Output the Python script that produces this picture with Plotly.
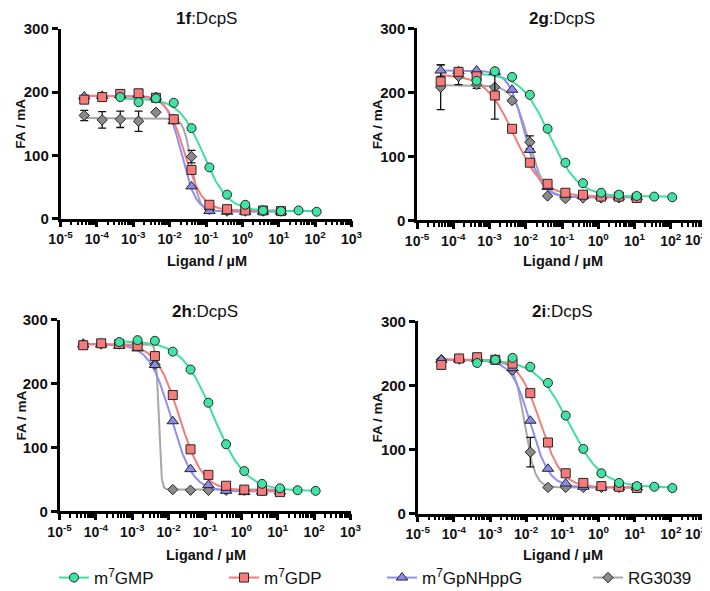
import numpy as np
import plotly.graph_objects as go

# ---------------- data ----------------
conc = [4.5e-5, 1.4e-4, 4.4e-4, 1.4e-3, 4.2e-3, 0.013, 0.040, 0.124, 0.38, 1.2, 3.7, 11.5, 35, 110]

series_names = ["m<sup>7</sup>GMP", "m<sup>7</sup>GDP", "m<sup>7</sup>GpNHppG", "RG3039"]
panel_titles = ["<b>1f</b>:DcpS", "<b>2g</b>:DcpS", "<b>2h</b>:DcpS", "<b>2i</b>:DcpS"]
x_tickvals = [1e-5, 1e-4, 1e-3, 1e-2, 1e-1, 1e0, 1e1, 1e2, 1e3]
x_ticktext = ["10<sup>-5</sup>", "10<sup>-4</sup>", "10<sup>-3</sup>", "10<sup>-2</sup>", "10<sup>-1</sup>",
              "10<sup>0</sup>", "10<sup>1</sup>", "10<sup>2</sup>", "10<sup>3</sup>"]
y_tickvals = [0, 100, 200, 300]

# panel 1f
f1_gmp = [None, None, 192, 184, 190, 183, 143, 81, 38, 22, 13, 12, 13, 11]
f1_gdp = [188, 192, 197, 198, 191, 157, 77, 22, 15, 13, 13, 12]
f1_gpnh = [193, 194, 195, 196, 192, 154, 51, 12, 11, 11, 11, 11]
f1_rg = [163, 156, 157, 154, 168, 157, 98, 15, 12, 12, 12, 12]
f1_rg_err = [8, 13, 13, 16, 0, 0, 10, 0, 0, 0, 0, 0]
# panel 2g
g2_gmp = [None, None, 218, 233, 224, 196, 143, 90, 58, 43, 40, 38, 37, 36]
g2_gdp = [217, 232, 225, 195, 143, 90, 57, 43, 40, 37, 37, 35]
g2_gdp_err = [0, 0, 0, 37, 0, 0, 0, 0, 0, 0, 0, 0]
g2_gpnh = [234, 233, 234, 232, 204, 110, 52, 40, 38, 37, 36, 36]
g2_gpnh_err = [9, 0, 0, 0, 0, 0, 0, 0, 0, 0, 0, 0]
g2_rg = [208, 225, 212, 208, 187, 122, 38, 34, 35, 35, 35, 35]
g2_rg_err = [35, 13, 6, 0, 0, 10, 0, 0, 0, 0, 0, 0]
# panel 2h
h2_gmp = [None, None, 265, 268, 267, 250, 222, 170, 105, 63, 43, 36, 33, 32]
h2_gdp = [260, 263, 262, 259, 243, 182, 97, 57, 40, 34, 32, 30]
h2_gpnh = [261, 261, 259, 255, 229, 141, 66, 41, 32, 30, 31, 31]
h2_rg = [262, 262, 262, 262, 230, 34, 33, 33, 33, 33, 33, 33]
# panel 2i
i2_gmp = [None, None, 235, 240, 243, 229, 204, 153, 101, 63, 48, 43, 42, 40]
i2_gdp = [232, 242, 244, 240, 234, 188, 111, 63, 48, 43, 42, 40]
i2_gpnh = [240, 241, 241, 240, 227, 145, 70, 47, 42, 41, 41, 41]
i2_rg = [240, 241, 241, 240, 224, 96, 41, 41, 41, 41, 41, 41]
i2_rg_err = [0, 0, 0, 0, 0, 23, 0, 0, 0, 0, 0, 0]

# fitted 4-parameter curves: top, bottom, IC50 (uM), Hill slope
f1_fits = [[190, 12, 0.085, 1.3], [194, 13, 0.026, 1.8], [194, 11, 0.021, 2.2], [159, 12, 0.040, 4.0]]
g2_fits = [[230, 37, 0.045, 1.1], [228, 37, 0.0048, 1.1], [234, 36, 0.0095, 1.96], [211, 36, 0.012, 2.0]]
h2_fits = [[267, 32, 0.17, 1.0], [262, 32, 0.020, 1.35], [262, 31, 0.0116, 1.46], [262, 34, 0.0053, 12.0]]
i2_fits = [[240, 41, 0.153, 0.97], [241, 41, 0.0248, 1.47], [240, 41, 0.0131, 1.67], [240, 41, 0.009, 3.0]]

panels = [
    dict(vals=[f1_gmp, f1_gdp, f1_gpnh, f1_rg], errs=[None, None, None, f1_rg_err], fits=f1_fits),
    dict(vals=[g2_gmp, g2_gdp, g2_gpnh, g2_rg], errs=[None, g2_gdp_err, g2_gpnh_err, g2_rg_err], fits=g2_fits),
    dict(vals=[h2_gmp, h2_gdp, h2_gpnh, h2_rg], errs=[None, None, None, None], fits=h2_fits),
    dict(vals=[i2_gmp, i2_gdp, i2_gpnh, i2_rg], errs=[None, None, None, i2_rg_err], fits=i2_fits),
]

# ---------------- style ----------------
W, H = 710, 591
FONT = "Liberation Sans, Arial, sans-serif"
line_colors = ["#3ee0a0", "#f47c7c", "#8f8ff2", "#a6a6a6"]
fill_colors = ["#3fe3a3", "#f77b7b", "#8a8aee", "#8a8a8a"]
symbols = ["circle", "square", "triangle-up", "diamond"]
sizes = [9, 9, 10, 8]
# pixel boxes: (x_left, x_right, y_top, y_bottom)
boxes = [(52.5, 343.5, 20.7, 210.7), (409.0, 699.0, 20.3, 212.3),
         (51.5, 342.5, 311.7, 503.3), (409.7, 699.0, 313.3, 505.7)]
legend_x = [46, 216, 374, 580]
legend_top = 552

fig = go.Figure()


def fourpl(x, p):
    top, bottom, ic50, hill = p
    return bottom + (top - bottom) / (1.0 + (x / ic50) ** hill)


for pi, pan in enumerate(panels):
    xa = "x" if pi == 0 else f"x{pi + 1}"
    ya = "y" if pi == 0 else f"y{pi + 1}"
    # curves (drawn bottom to top: RG3039, GpNHppG, GDP, GMP)
    for si in [3, 2, 1, 0]:
        v = pan["vals"][si]
        idx = [i for i, y in enumerate(v) if y is not None]
        xs = np.logspace(np.log10(conc[idx[0]]), np.log10(conc[idx[-1]]), 600)
        fig.add_trace(go.Scatter(x=xs, y=fourpl(xs, pan["fits"][si]), mode="lines",
                                 line=dict(color=line_colors[si], width=2), xaxis=xa, yaxis=ya,
                                 showlegend=False, hoverinfo="skip"))
    for si in [3, 2, 1, 0]:
        v = pan["vals"][si]
        err = pan["errs"][si]
        tr = dict(x=conc[:len(v)], y=v, mode="markers", xaxis=xa, yaxis=ya,
                  marker=dict(symbol=symbols[si], size=sizes[si], color=fill_colors[si],
                              line=dict(color="#262626", width=1)),
                  showlegend=False)
        if err is not None:
            tr["error_y"] = dict(type="data", array=err, visible=True, color="#111111", thickness=1.3, width=4)
        fig.add_trace(go.Scatter(**tr))

# legend entries (one legend per entry so positions match)
for si in range(4):
    lg = "legend" if si == 0 else f"legend{si + 1}"
    fig.add_trace(go.Scatter(x=[None], y=[None], mode="lines+markers", name=series_names[si],
                             line=dict(color=line_colors[si], width=2),
                             marker=dict(symbol=symbols[si], size=sizes[si], color=fill_colors[si],
                                         line=dict(color="#262626", width=1)),
                             xaxis="x", yaxis="y", legend=lg, showlegend=True))

layout = dict(width=W, height=H, margin=dict(l=0, r=0, t=0, b=0, autoexpand=False),
              paper_bgcolor="white", plot_bgcolor="white",
              font=dict(family=FONT, color="#111111"))

minor_vals = [m * 10.0 ** e for e in range(-5, 3) for m in range(2, 10)]

annotations = []
for pi, (xl, xr, yt, yb) in enumerate(boxes):
    xk = "xaxis" if pi == 0 else f"xaxis{pi + 1}"
    yk = "yaxis" if pi == 0 else f"yaxis{pi + 1}"
    ya = "y" if pi == 0 else f"y{pi + 1}"
    xa = "x" if pi == 0 else f"x{pi + 1}"
    right_col = pi % 2 == 1
    # right-column panels: last label drawn as a right-aligned annotation so it stays inside the page
    ticktext = x_ticktext[:-1] + [""] if right_col else x_ticktext
    layout[xk] = dict(domain=[xl / W, xr / W], anchor=ya, type="log", range=[-5, 3], automargin=False,
                      tickvals=x_tickvals, ticktext=ticktext, ticks="outside", ticklen=6,
                      tickwidth=2.5, tickcolor="black", showline=True, linewidth=2.5, linecolor="black",
                      showgrid=False, zeroline=False, ticklabeloverflow="allow",
                      tickfont=dict(family=FONT, size=14, color="#111111", weight="bold"),
                      minor=dict(tickvals=minor_vals, ticks="outside", ticklen=3.5, tickwidth=1.5,
                                 tickcolor="black", showgrid=False))
    layout[yk] = dict(domain=[1 - yb / H, 1 - yt / H], anchor=xa, range=[0, 300], automargin=False,
                      tickvals=y_tickvals, ticks="outside", ticklen=6, tickwidth=2.5, tickcolor="black",
                      showline=True, linewidth=2.5, linecolor="black", showgrid=False, zeroline=False,
                      tickfont=dict(family=FONT, size=15, color="#111111", weight="bold"))
    if right_col:
        annotations.append(dict(text="<b>" + x_ticktext[-1] + "</b>", x=np.log10(x_tickvals[-1]), y=0,
                                xref=xa, yref=ya, xanchor="right", yanchor="top", xshift=2, yshift=-8,
                                showarrow=False, font=dict(family=FONT, size=14, color="#111111")))
    cx = (xl + xr) / 2
    cy = (yt + yb) / 2
    title_y = 10 if pi < 2 else 303
    xt_y = 253 if pi < 2 else 547
    yt_x = 13 if pi % 2 == 0 else 369
    annotations.append(dict(text=panel_titles[pi], x=cx / W, y=1 - title_y / H, xref="paper", yref="paper",
                            showarrow=False, xanchor="center", yanchor="middle",
                            font=dict(family=FONT, size=17, color="#111111")))
    annotations.append(dict(text="<b>Ligand / µM</b>", x=(cx + 1) / W, y=1 - xt_y / H, xref="paper",
                            yref="paper", showarrow=False, xanchor="center", yanchor="middle",
                            font=dict(family=FONT, size=14.5, color="#111111")))
    annotations.append(dict(text="<b>FA / mA</b>", x=yt_x / W, y=1 - cy / H, xref="paper", yref="paper",
                            showarrow=False, xanchor="center", yanchor="middle", textangle=-90,
                            font=dict(family=FONT, size=13.5, color="#111111")))
layout["annotations"] = annotations

for si in range(4):
    lg = "legend" if si == 0 else f"legend{si + 1}"
    layout[lg] = dict(x=legend_x[si] / W, y=1 - legend_top / H, xanchor="left", yanchor="top",
                      orientation="h", bgcolor="rgba(0,0,0,0)", borderwidth=0,
                      font=dict(family=FONT, size=17, color="#111111"), itemwidth=30)

fig.update_layout(**layout)
fig.write_html("out.html")
